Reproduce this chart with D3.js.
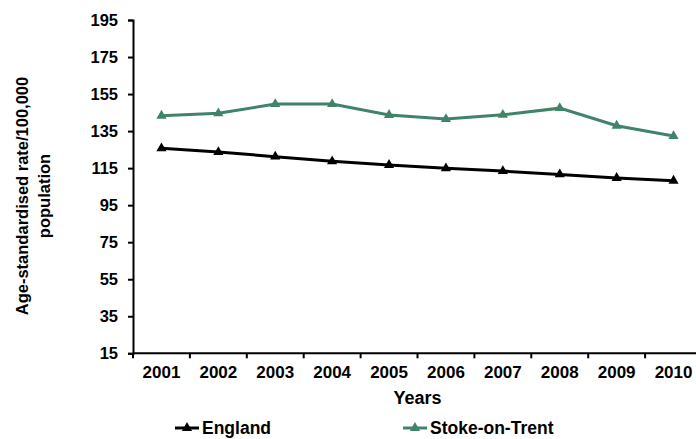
<html lang="en">
<head>
  <meta charset="UTF-8">
  <title>Age-standardised rate</title>
  <style>
    body { margin: 0; background: #fff; }
    text { font-family: "Liberation Sans", Arial, sans-serif; font-weight: bold; fill: #000; }
  </style>
</head>
<body>
  <div id="chart"></div>
  <script src="https://d3js.org/d3.v7.min.js"></script>
  <script>
    // data
    const years = ["2001", "2002", "2003", "2004", "2005", "2006", "2007", "2008", "2009", "2010"];
    const england = [125.7, 123.7, 121.2, 118.7, 116.7, 114.9, 113.4, 111.6, 109.7, 108.2];
    const stoke = [143.3, 144.6, 149.6, 149.6, 143.7, 141.5, 143.8, 147.4, 137.9, 132.3];
    const yTicks = [15, 35, 55, 75, 95, 115, 135, 155, 175, 195];
    const seriesNames = ["England", "Stoke-on-Trent"];

    const colors = { "England": "#000000", "Stoke-on-Trent": "#3f8468" };
    const width = 696, height = 439;

    const svg = d3.select("#chart")
      .append("svg")
      .attr("width", width)
      .attr("height", height);

    const x = d3.scaleBand()
      .domain(years)
      .range([133, 702]);

    const y = d3.scaleLinear()
      .domain([15, 195])
      .range([353.3, 20]);

    // Y axis
    const yAxis = svg.append("g")
      .attr("transform", "translate(133,0)")
      .call(d3.axisLeft(y).tickValues(yTicks).tickSize(5).tickPadding(10));
    yAxis.selectAll("text").style("font-size", "16.5px");
    yAxis.select(".domain").attr("stroke-width", 2);
    yAxis.selectAll(".tick line").attr("stroke-width", 2);

    // X axis with ticks between categories
    const xAxis = svg.append("g")
      .attr("transform", "translate(0,353.3)");
    xAxis.append("line")
      .attr("x1", x.range()[0]).attr("x2", x.range()[1])
      .attr("stroke", "#000").attr("stroke-width", 2);
    xAxis.selectAll(".tk")
      .data(years)
      .join("line")
      .attr("class", "tk")
      .attr("x1", d => x(d)).attr("x2", d => x(d))
      .attr("y1", 0).attr("y2", 5)
      .attr("stroke", "#000").attr("stroke-width", 2);
    xAxis.selectAll(".lbl")
      .data(years)
      .join("text")
      .attr("class", "lbl")
      .attr("x", d => x(d) + x.bandwidth() / 2)
      .attr("y", 25)
      .attr("text-anchor", "middle")
      .style("font-size", "17px")
      .text(d => d);

    // axis titles
    svg.append("text")
      .attr("x", (x.range()[0] + x.range()[1]) / 2)
      .attr("y", 404)
      .attr("text-anchor", "middle")
      .style("font-size", "18px")
      .text("Years");

    const yTitle = svg.append("text")
      .attr("transform", "translate(28,196) rotate(-90)")
      .attr("text-anchor", "middle")
      .style("font-size", "16.5px");
    yTitle.append("tspan").attr("x", 0).attr("dy", 0).text("Age-standardised rate/100,000");
    yTitle.append("tspan").attr("x", 0).attr("dy", 22).text("population");

    // lines and markers
    const series = [
      { name: "England", values: england },
      { name: "Stoke-on-Trent", values: stoke }
    ];
    const line = d3.line()
      .x((d, i) => x(years[i]) + x.bandwidth() / 2)
      .y(d => y(d));
    const tri = d3.symbol().type(d3.symbolTriangle).size(45);

    series.forEach(s => {
      svg.append("path")
        .datum(s.values)
        .attr("d", line)
        .attr("fill", "none")
        .attr("stroke", colors[s.name])
        .attr("stroke-width", 3);
      svg.selectAll(null)
        .data(s.values)
        .join("path")
        .attr("d", tri)
        .attr("transform", (d, i) => `translate(${x(years[i]) + x.bandwidth() / 2},${y(d)})`)
        .attr("fill", colors[s.name]);
    });

    // legend
    const legendX = [175, 403];
    seriesNames.forEach((name, i) => {
      const g = svg.append("g").attr("transform", `translate(${legendX[i]},428)`);
      g.append("line")
        .attr("x1", 0).attr("x2", 24)
        .attr("stroke", colors[name]).attr("stroke-width", 3);
      g.append("path")
        .attr("d", tri)
        .attr("transform", "translate(12,0)")
        .attr("fill", colors[name]);
      g.append("text")
        .attr("x", 27)
        .attr("y", 6)
        .style("font-size", "17.5px")
        .text(name);
    });
  </script>
</body>
</html>
